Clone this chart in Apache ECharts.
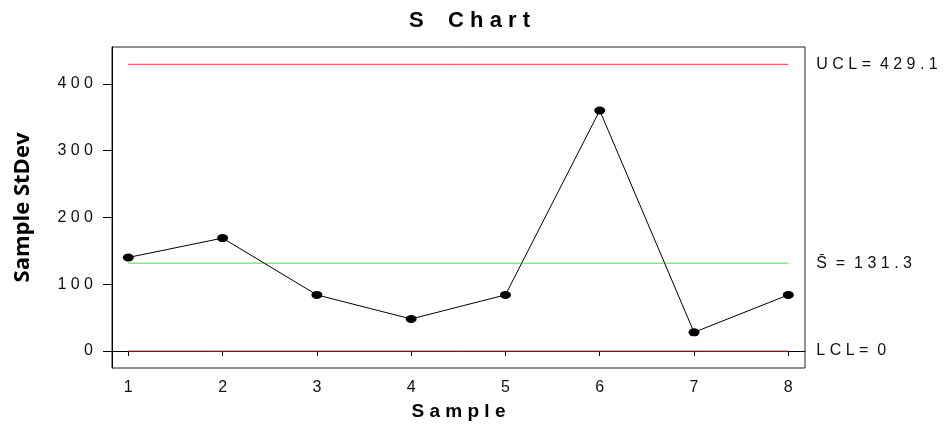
<!DOCTYPE html>
<html>
<head>
<meta charset="utf-8">
<script src="https://cdn.jsdelivr.net/npm/echarts@6/dist/echarts.min.js"></script>
<style>html,body{margin:0;padding:0;background:#fff}#c{width:950px;height:431px}</style>
</head>
<body>
<div id="c"></div>
<script>
// Data
const samples = [1, 2, 3, 4, 5, 6, 7, 8];
const stdev = [140, 169, 84, 48, 84, 360, 28, 84];
const ucl = 429.1;
const center = 131.3;
const lcl = 0;
const yTicks = [0, 100, 200, 300, 400];
const xTicks = [1, 2, 3, 4, 5, 6, 7, 8];
const titleText = 'S Chart';
const xName = 'Sample';
const yName = 'Sample StDev';

function spaced(s) { return String(s).split('').join(' '); }
function ctlText(name, v) { return spaced(name) + ' =  ' + spaced(v); }

const chart = echarts.init(document.getElementById('c'), null, { renderer: 'canvas' });
const FONT = 'Liberation Sans';

function ctlLine(val, color, width, label) {
  return {
    type: 'line',
    data: [[samples[0], val], [samples[samples.length - 1], val]],
    showSymbol: false,
    symbol: 'none',
    silent: true,
    lineStyle: { color: color, width: width },
    z: 1,
    endLabel: {
      show: true,
      distance: 28,
      formatter: label,
      color: '#111',
      fontFamily: FONT,
      fontSize: 16
    }
  };
}

chart.setOption({
  animation: false,
  title: {
    text: spaced(titleText).replace(' ', '  '),
    left: 404,
    top: 5,
    textStyle: { fontFamily: FONT, fontWeight: 'bold', fontSize: 22, color: '#000' }
  },
  grid: { left: 112, top: 47, right: 145, bottom: 63, show: true, borderColor: '#222', borderWidth: 1, containLabel: false },
  xAxis: {
    type: 'value',
    min: 0.827,
    max: 8.177,
    name: spaced(xName),
    nameLocation: 'middle',
    nameGap: 34,
    nameTextStyle: { fontFamily: FONT, fontWeight: 'bold', fontSize: 19, color: '#000' },
    axisLine: { show: true, lineStyle: { color: '#000', width: 1 } },
    axisTick: { show: true, length: 5, customValues: xTicks, lineStyle: { color: '#000' } },
    axisLabel: { customValues: xTicks, margin: 12, fontFamily: FONT, fontSize: 16, color: '#111' },
    splitLine: { show: false }
  },
  yAxis: {
    type: 'value',
    min: -25.4,
    max: 455,
    name: yName,
    nameLocation: 'middle',
    nameGap: 78,
    nameTextStyle: { fontFamily: 'Open Sans', fontWeight: 'bold', fontSize: 22, color: '#000' },
    axisLine: { show: true, lineStyle: { color: '#000', width: 1 } },
    axisTick: { show: true, length: 9, customValues: yTicks, lineStyle: { color: '#000' } },
    axisLabel: { customValues: yTicks, margin: 19, fontFamily: FONT, fontSize: 16, color: '#111', formatter: v => spaced(v) },
    splitLine: { show: false }
  },
  series: [
    ctlLine(ucl, '#e8393a', 1, () => ctlText('UCL', ucl)),
    ctlLine(center, '#7cf07c', 1.5, () => 'S\u0304  =  ' + spaced(center)),
    ctlLine(lcl, '#e8393a', 1, () => ctlText('LCL', lcl)),
    {
      type: 'line',
      data: samples.map((s, i) => [s, stdev[i]]),
      symbol: 'circle',
      symbolSize: [11, 8],
      showSymbol: true,
      itemStyle: { color: '#000' },
      lineStyle: { color: '#000', width: 1 },
      z: 3
    }
  ]
});
</script>
</body>
</html>
